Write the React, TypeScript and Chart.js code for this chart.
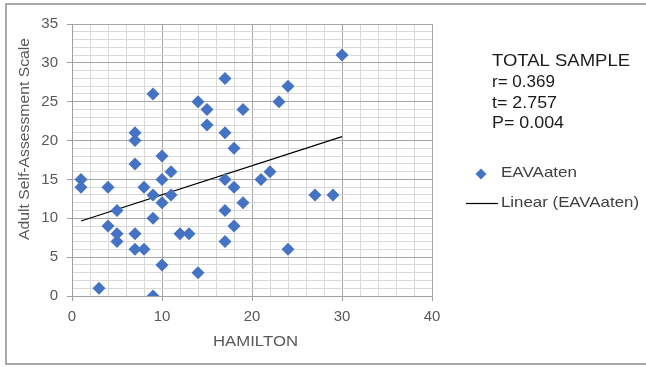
import React, { useEffect, useRef } from "react";
import { Chart, registerables } from "chart.js";

Chart.register(...registerables);

// HAMILTON (x) and Adult Self-Assessment Scale (y) values
const hamilton = [1, 1, 3, 4, 4, 5, 5, 5, 7, 7, 7, 7, 7, 8, 8, 9, 9, 9, 9, 10, 10, 10, 10, 11, 11, 12, 13, 14, 14, 15, 15, 17, 17, 17, 17, 17, 18, 18, 18, 19, 19, 21, 22, 23, 24, 24, 27, 29, 30];
const asas = [15, 14, 1, 14, 9, 11, 8, 7, 21, 20, 17, 8, 6, 14, 6, 26, 13, 10, 0, 18, 15, 12, 4, 16, 13, 8, 8, 25, 3, 24, 22, 28, 21, 15, 11, 7, 19, 14, 9, 24, 12, 15, 16, 25, 27, 6, 13, 13, 31];

// Linear trend line end points
const trendX = [1, 30];
const trendY = [9.65, 20.5];

const seriesName = "EAVAaten";
const trendName = "Linear (EAVAaten)";
const xTitle = "HAMILTON";
const yTitle = "Adult Self-Assessment Scale";
const statLines = ["TOTAL SAMPLE", "r= 0.369", "t= 2.757", "P= 0.004"];

const FONT = '"Liberation Sans", Arial, sans-serif';
const BLUE = "#4472C4";

function fitText(ctx: CanvasRenderingContext2D, text: string, left: number, cy: number, width: number, size: number, color: string) {
  ctx.save();
  ctx.font = `${size}px ${FONT}`;
  const w = ctx.measureText(text).width;
  ctx.translate(left, cy);
  ctx.scale(width / w, 1);
  ctx.fillStyle = color;
  ctx.textBaseline = "middle";
  ctx.textAlign = "left";
  ctx.fillText(text, 0, 0);
  ctx.restore();
}

const overlayPlugin = {
  id: "overlay",
  afterDraw(chart: any) {
    const ctx: CanvasRenderingContext2D = chart.ctx;
    // outer frame
    ctx.save();
    ctx.strokeStyle = "#8c8c8c";
    ctx.lineWidth = 1.5;
    ctx.strokeRect(6, 4, 700, 360);
    ctx.restore();

    // stats block
    const statWidths = [138, 63, 65, 72];
    const statY = [61, 82, 103, 123];
    statLines.forEach((t, i) => fitText(ctx, t, 492, statY[i], statWidths[i], 16.5, "#1a1a1a"));

    // legend
    ctx.save();
    ctx.fillStyle = BLUE;
    ctx.beginPath();
    const lx = 481, ly = 174, r = 5.5;
    ctx.moveTo(lx - r, ly);
    ctx.lineTo(lx, ly - r);
    ctx.lineTo(lx + r, ly);
    ctx.lineTo(lx, ly + r);
    ctx.closePath();
    ctx.fill();
    ctx.strokeStyle = "#000";
    ctx.lineWidth = 1.2;
    ctx.beginPath();
    ctx.moveTo(466, 203.5);
    ctx.lineTo(498, 203.5);
    ctx.stroke();
    ctx.restore();
    fitText(ctx, seriesName, 501, 173, 76, 14.5, "#404040");
    fitText(ctx, trendName, 501, 203, 138, 14.5, "#404040");

    // axis titles
    fitText(ctx, xTitle, 213, 342, 85, 15, "#595959");
    ctx.save();
    ctx.font = `15px ${FONT}`;
    const w = ctx.measureText(yTitle).width;
    ctx.translate(25, 139);
    ctx.rotate(-Math.PI / 2);
    ctx.scale(202 / w, 1);
    ctx.fillStyle = "#595959";
    ctx.textAlign = "center";
    ctx.textBaseline = "middle";
    ctx.fillText(yTitle, 0, 0);
    ctx.restore();
  },
};

export default function App() {
  const ref = useRef<HTMLCanvasElement | null>(null);

  useEffect(() => {
    if (!ref.current) return;
    const chart = new Chart(ref.current, {
      type: "scatter",
      data: {
        datasets: [
          {
            label: seriesName,
            data: hamilton.map((x, i) => ({ x, y: asas[i] })),
            backgroundColor: BLUE,
            borderColor: BLUE,
            pointStyle: "rectRot",
            pointRadius: 6.5,
            pointHoverRadius: 6.5,
            borderWidth: 0,
          },
          {
            label: trendName,
            data: trendX.map((x, i) => ({ x, y: trendY[i] })),
            showLine: true,
            borderColor: "#000",
            borderWidth: 1.3,
            pointRadius: 0,
            pointHoverRadius: 0,
          } as any,
        ],
      },
      options: {
        animation: false,
        responsive: true,
        maintainAspectRatio: false,
        layout: { padding: { left: 0, top: 24, right: 214, bottom: 0 } },
        plugins: { legend: { display: false }, tooltip: { enabled: false } },
        scales: {
          x: {
            type: "linear",
            min: 0,
            max: 40,
            afterFit: (s: any) => {
              s.height = 71;
            },
            ticks: {
              stepSize: 2,
              autoSkip: false,
              maxRotation: 0,
              padding: 7,
              color: "#595959",
              font: { family: FONT, size: 15 },
              callback: (v: any) => (Number(v) % 10 === 0 ? String(v) : ""),
            },
            grid: {
              color: (c: any) => (c.tick && c.tick.value % 10 === 0 ? "#a6a6a6" : "#d9d9d9"),
              tickColor: (c: any) => (c.tick && c.tick.value % 10 === 0 ? "#a0a0a0" : "rgba(0,0,0,0)"),
              tickLength: 5,
              lineWidth: 1,
            },
            border: { color: "#a0a0a0", width: 1 },
          },
          y: {
            type: "linear",
            min: 0,
            max: 35,
            afterFit: (s: any) => {
              s.width = 72;
            },
            ticks: {
              stepSize: 1,
              autoSkip: false,
              padding: 9,
              color: "#595959",
              font: { family: FONT, size: 15 },
              callback: (v: any) => (Number(v) % 5 === 0 ? String(v) : ""),
            },
            grid: {
              color: (c: any) => (c.tick && c.tick.value % 5 === 0 ? "#a6a6a6" : "#d9d9d9"),
              tickColor: (c: any) => (c.tick && c.tick.value % 5 === 0 ? "#a0a0a0" : "rgba(0,0,0,0)"),
              tickLength: 5,
              lineWidth: 1,
            },
            border: { color: "#a0a0a0", width: 1 },
          },
        },
      },
      plugins: [overlayPlugin],
    });
    return () => chart.destroy();
  }, []);

  return (
    <div style={{ position: "absolute", left: 0, top: 0, width: 646, height: 367, background: "#fff" }}>
      <canvas ref={ref} />
    </div>
  );
}
